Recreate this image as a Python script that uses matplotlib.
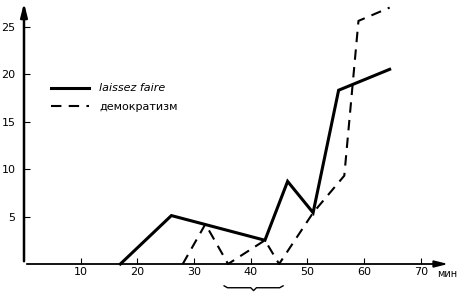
import matplotlib
matplotlib.use("Agg")
import matplotlib.pyplot as plt
from matplotlib.lines import Line2D

# Data
laissez_x = [17, 26, 42.5, 46.5, 51, 55.5, 64.5]
laissez_y = [0, 5.1, 2.5, 8.7, 5.4, 18.3, 20.5]
demo_x = [28, 32, 36, 42.5, 45, 51, 56.5, 59, 64.5]
demo_y = [0, 4.2, 0, 2.5, 0, 5.4, 9.3, 25.6, 27]
xticks = [10, 20, 30, 40, 50, 60, 70]
yticks = [5, 10, 15, 20, 25]
series_labels = ["laissez faire", "демократизм"]
x_unit = "мин"
bracket_range = (35.3, 45.7)

fig = plt.figure(figsize=(4.62, 2.92), dpi=100)
ax = fig.add_axes([24/462, 28/292, 428/462, 264/292])
ax.set_xlim(0, 75.5)
ax.set_ylim(0, 27.8)
for s in ax.spines.values():
    s.set_visible(False)

# axes with arrows
ax.annotate("", xy=(75.3, 0), xytext=(0, 0), xycoords="data",
            arrowprops=dict(arrowstyle="-|>,head_length=0.8,head_width=0.2", lw=1.3, color="black"),
            annotation_clip=False)
ax.annotate("", xy=(0, 27.8), xytext=(0, 0), xycoords="data",
            arrowprops=dict(arrowstyle="-|>,head_length=0.8,head_width=0.2", lw=1.8, color="black"),
            annotation_clip=False)

ax.plot(laissez_x, laissez_y, color="black", lw=2.2, solid_joinstyle="miter", clip_on=False)
ax.plot(demo_x, demo_y, color="black", lw=1.5, dashes=(5, 3.5), clip_on=False)

ax.set_xticks(xticks)
ax.set_yticks(yticks)
ax.tick_params(axis="x", direction="in", length=4, width=0.8, pad=2, labelsize=8)
ax.tick_params(axis="y", direction="in", length=4, width=0.8, pad=6, labelsize=8)

ax.text(72.8, -0.5, x_unit, fontsize=7, ha="left", va="top", clip_on=False)

# bracket
b0, b1 = bracket_range
mid = (b0 + b1) / 2
ax.plot([b0, b0 + 0.6, mid - 0.5, mid, mid + 0.5, b1 - 0.6, b1],
        [-2.3, -2.5, -2.5, -2.8, -2.5, -2.5, -2.3], color="black", lw=1.0, clip_on=False)

handles = [Line2D([], [], color="black", lw=2.2),
           Line2D([], [], color="black", lw=1.5, dashes=(5, 3.5))]
leg = ax.legend(handles, series_labels, loc="upper left", bbox_to_anchor=(0.04, 0.722),
                frameon=False, fontsize=8, handlelength=3.4, handletextpad=0.9, labelspacing=0.75)
leg.get_texts()[0].set_style("italic")

fig.savefig("out.png", dpi=100)
